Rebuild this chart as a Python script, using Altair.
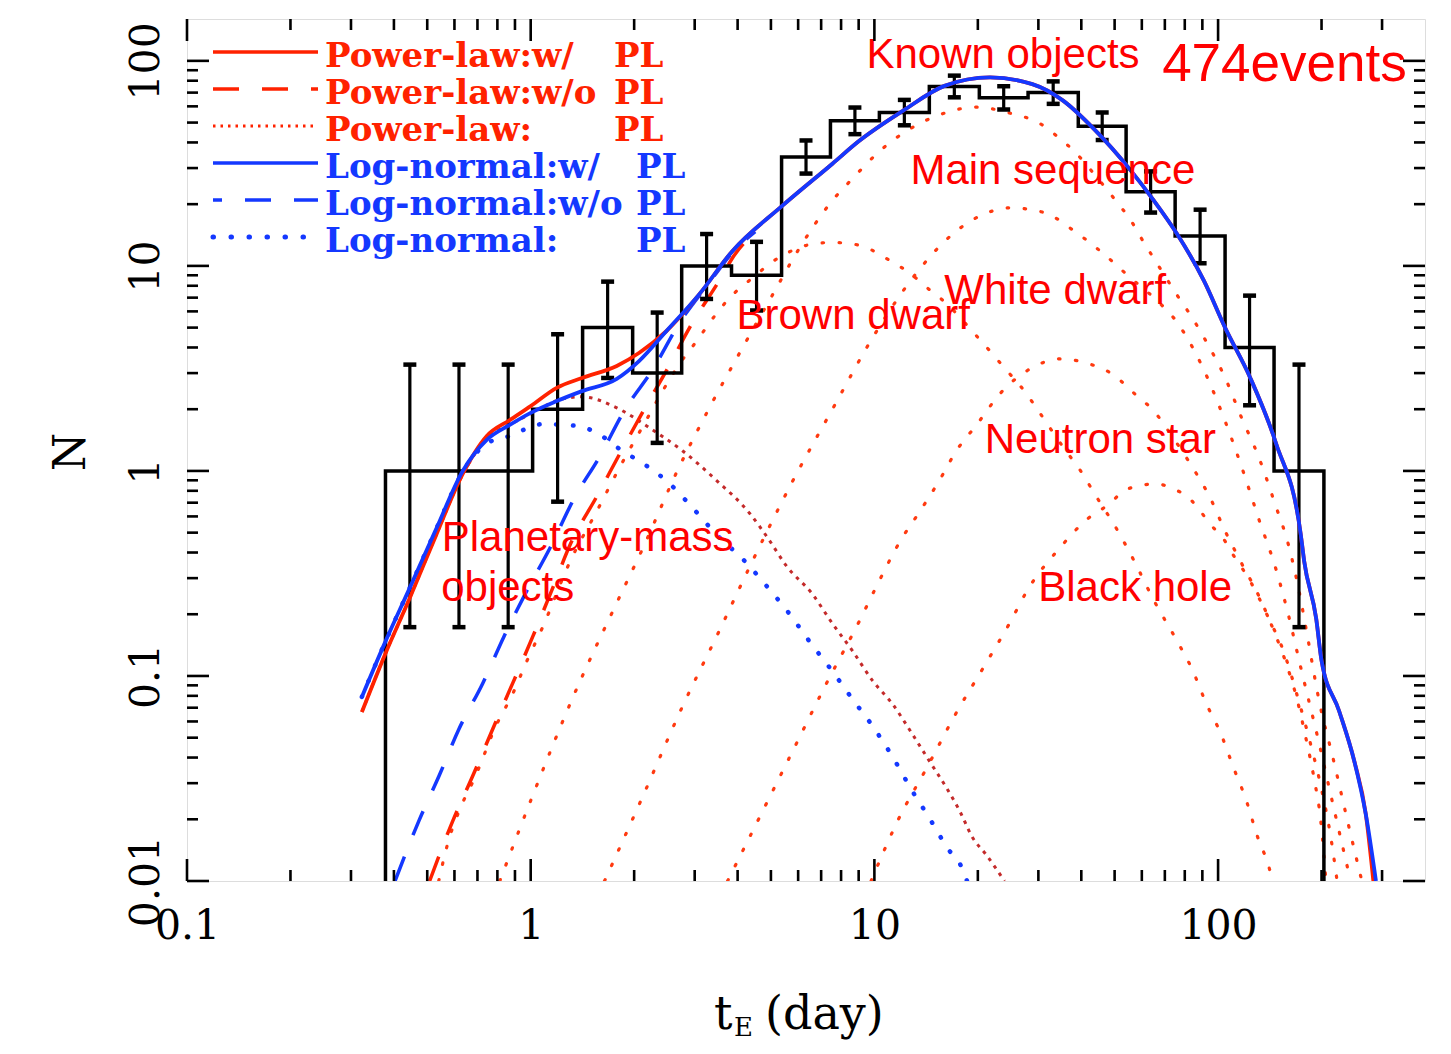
import altair as alt
import numpy as np
import pandas as pd

# ---------------- values ----------------
BIN_EDGES = [0.378, 0.524, 0.730, 1.013, 1.416, 1.98, 2.75, 3.84, 5.37, 7.45,
             10.34, 14.45, 20.2, 28.0, 39.2, 54.0, 75.0, 104.8, 145.5, 203.2]
COUNTS = [1, 1, 1, 2, 5, 3, 10, 9, 34, 51, 56, 75, 66, 70, 48, 23, 14, 4, 1]
ERR_LO = [0.173, 0.173, 0.173, 0.708, 2.84, 1.37, 6.90, 6.06, 28.2, 43.9,
          48.5, 66.4, 57.9, 61.7, 41.1, 18.2, 10.3, 2.09, 0.173]
ERR_HI = [3.30, 3.30, 3.30, 4.64, 8.38, 5.92, 14.3, 13.1, 40.9, 59.2,
          64.5, 84.7, 75.2, 79.4, 56.0, 28.9, 18.8, 7.16, 3.30]

PL_WITH_X = [0.3227, 0.3764, 0.4448, 0.5295, 0.6342, 0.7451, 0.869, 1.0, 1.19, 1.41, 1.78, 2.07, 2.48, 3.1, 3.86,
             5.37, 7.55, 9.0, 12.1, 16.0, 21.7, 28.8, 35.4, 43.3, 55.9, 65.2, 76.0, 91.0, 104.8, 124.0,
             147.5, 174.0, 178.0, 193.0, 200.0, 225.0, 249.0, 269.0, 283.0]
PL_WITH_N = [0.0667, 0.1266, 0.24, 0.482, 0.967, 1.48, 1.77, 2.07, 2.54, 2.84, 3.25, 3.77, 4.8, 7.3, 11.8,
             19.5, 31.5, 40.5, 57.0, 75.5, 83.0, 77.0, 64.0, 47.0, 29.0, 20.7, 14.3, 8.45, 5.0, 2.85,
             1.36, 0.49, 0.364, 0.19, 0.119, 0.0675, 0.0385, 0.0212, 0.01]
LN_WITH_X = [0.3227, 0.3764, 0.4448, 0.5295, 0.6342, 0.7451, 0.869, 1.0, 1.19, 1.41, 1.78, 2.07, 2.48, 3.1, 3.86,
             5.37, 7.55, 9.0, 12.1, 16.0, 21.7, 28.8, 35.4, 43.3, 55.9, 65.2, 76.0, 91.0, 104.8, 124.0,
             147.5, 174.0, 178.0, 193.0, 200.0, 225.0, 249.0, 269.0, 288.0]
LN_WITH_N = [0.079, 0.145, 0.269, 0.516, 1.0, 1.417, 1.676, 1.92, 2.19, 2.45, 2.81, 3.44, 4.8, 7.3, 11.8,
             19.5, 31.5, 40.5, 57.0, 75.5, 83.0, 77.0, 64.0, 47.0, 29.0, 20.7, 14.3, 8.45, 5.0, 2.85,
             1.36, 0.49, 0.364, 0.19, 0.119, 0.0675, 0.0385, 0.0212, 0.01]

PL_WO_X = [0.508, 0.593, 0.678, 0.775, 0.886, 1.013, 1.15, 1.31, 1.56, 1.82, 2.14, 2.5, 2.9, 3.6, 3.86, 4.5]
PL_WO_N = [0.01, 0.0196, 0.0325, 0.055, 0.092, 0.155, 0.26, 0.446, 0.755, 1.22, 2.0, 3.15, 5.0, 8.9, 10.9, 14.6]
LN_WO_X = [0.403, 0.4725, 0.541, 0.618, 0.725, 0.835, 0.974, 1.135, 1.34, 1.59, 1.87, 2.28, 2.71, 3.31, 3.86, 4.5]
LN_WO_N = [0.01, 0.0196, 0.0325, 0.055, 0.092, 0.155, 0.26, 0.417, 0.738, 1.18, 1.96, 3.18, 5.27, 8.3, 11.6, 14.7]

PLANET_PL_X = [0.3227, 0.3764, 0.4448, 0.5295, 0.6342, 0.7451, 0.869, 1.0, 1.19, 1.41, 1.78, 2.22, 2.77, 3.47, 4.34,
               4.9, 5.54, 6.61, 7.57, 8.65, 9.89, 11.3, 12.9, 14.45, 16.2, 17.7, 19.3, 21.1, 23.9]
PLANET_PL_N = [0.0667, 0.1266, 0.24, 0.482, 0.96, 1.44, 1.68, 1.9, 2.2, 2.3, 2.03, 1.62, 1.25, 0.9, 0.62,
               0.47, 0.345, 0.25, 0.179, 0.132, 0.0946, 0.0728, 0.052, 0.0385, 0.0285, 0.022, 0.0163, 0.0135, 0.01]
PLANET_LN_X = [0.3227, 0.3764, 0.4448, 0.5295, 0.6342, 0.7451, 0.869, 1.08, 1.36, 1.56, 1.85, 2.12, 2.54, 2.96,
               3.47, 4.19, 4.88, 5.66, 6.52, 7.53, 8.61, 9.84, 11.4, 12.8, 14.5, 16.3, 18.1, 18.6]
PLANET_LN_N = [0.079, 0.145, 0.269, 0.516, 0.99, 1.36, 1.48, 1.69, 1.66, 1.53, 1.25, 1.09, 0.865, 0.66,
               0.49, 0.364, 0.272, 0.201, 0.145, 0.106, 0.0776, 0.0575, 0.0393, 0.028, 0.0201, 0.0145, 0.0113, 0.01]

BD_X = [0.54, 0.574, 0.622, 0.687, 0.796, 0.887, 0.974, 1.08, 1.31, 1.56, 1.82, 2.14, 2.45, 2.75, 3.04,
        3.43, 3.79, 4.42, 4.95, 5.37, 5.93, 6.78, 7.55, 8.63, 9.67, 10.8, 11.8, 12.9, 14.4, 15.8, 20.2,
        23.9, 27.7, 29.6, 36.1, 39.2, 44.5, 50.5, 56.6, 65.2, 76.0, 84.0, 92.2, 102.0, 111.0, 121.0,
        130.0, 141.0, 144.0]
BD_N = [0.01, 0.0153, 0.0224, 0.0318, 0.058, 0.082, 0.118, 0.171, 0.37, 0.64, 1.05, 1.7, 2.54, 3.44, 4.3,
        5.7, 6.98, 8.74, 10.2, 11.2, 12.1, 12.9, 13.0, 12.8, 12.1, 10.9, 10.0, 9.0, 7.7, 6.8, 4.4,
        3.18, 2.38, 2.03, 1.25, 1.04, 0.738, 0.527, 0.372, 0.232, 0.148, 0.108, 0.074, 0.052, 0.0356, 0.0245,
        0.0166, 0.0115, 0.01]
MS_X = [0.813, 1.007, 1.324, 1.79, 2.12, 2.67, 3.31, 4.24, 5.0, 6.05, 7.4, 8.7, 10.4, 12.7, 15.7, 19.7,
        24.7, 30.4, 34.5, 38.1, 44.5, 50.5, 55.8, 60.5, 65.2, 68.7, 76.0, 84.0, 92.2, 104.8, 117.0,
        131.5, 146.5, 160.0, 172.0, 181.5, 197.0, 217.0, 240.0, 262.0]
MS_N = [0.01, 0.0254, 0.078, 0.232, 0.42, 1.0, 2.03, 4.3, 7.0, 12.2, 20.0, 27.0, 36.5, 46.6, 55.0, 59.5,
        55.7, 49.3, 42.0, 36.3, 26.9, 20.7, 16.6, 13.2, 10.8, 9.4, 7.2, 5.6, 4.3, 2.85, 1.82,
        1.16, 0.69, 0.44, 0.26, 0.16, 0.075, 0.0385, 0.0185, 0.01]
WD_X = [1.64, 2.1, 2.77, 3.5, 4.42, 5.78, 7.55, 9.87, 12.9, 16.9, 22.0, 24.7, 31.2, 38.1, 46.3, 55.8,
        65.0, 76.0, 91.0, 104.8, 117.0, 131.5, 147.5, 160.0, 174.0, 195.0, 218.0, 243.0]
WD_N = [0.01, 0.025, 0.0715, 0.16, 0.364, 0.89, 2.0, 4.45, 8.7, 14.3, 18.5, 19.2, 18.2, 14.8, 11.5, 8.7,
        7.0, 5.3, 3.1, 1.75, 1.05, 0.58, 0.33, 0.2, 0.11, 0.05, 0.022, 0.01]
NS_X = [3.74, 5.66, 7.24, 9.04, 10.1, 11.9, 13.6, 15.4, 17.3, 19.9, 23.2, 27.8, 35.0, 39.2, 43.9, 49.2,
        53.3, 58.9, 63.8, 74.0, 84.0, 94.8, 104.8, 117.5, 131.5, 145.5, 158.7, 169.7, 180.0, 190.0, 199.0, 206.0]
NS_N = [0.01, 0.04, 0.0914, 0.185, 0.27, 0.456, 0.64, 0.89, 1.25, 1.69, 2.38, 3.08, 3.52, 3.44, 3.25, 2.97,
        2.66, 2.27, 2.03, 1.45, 1.05, 0.74, 0.51, 0.35, 0.245, 0.165, 0.112, 0.077, 0.05, 0.032, 0.0196, 0.01]
BH_X = [9.78, 11.8, 14.2, 17.3, 20.9, 24.7, 27.8, 35.0, 41.0, 48.2, 53.3, 58.9, 66.0, 74.0, 82.3, 88.7,
        94.8, 103.4, 110.6, 124.0, 140.6, 155.6, 170.0, 185.0, 200.0, 212.0, 222.0]
BH_N = [0.01, 0.0203, 0.0356, 0.066, 0.112, 0.18, 0.26, 0.43, 0.57, 0.69, 0.8, 0.845, 0.865, 0.817, 0.738,
        0.638, 0.55, 0.47, 0.39, 0.29, 0.19, 0.13, 0.08, 0.048, 0.028, 0.017, 0.01]

ANN_TEXT = ["Known objects", "474events", "Main sequence", "White dwarf", "Brown dwarf",
            "Neutron star", "Planetary-mass", "objects", "Black hole"]
ANN_X = [9.48, 68.75, 12.73, 15.98, 3.97, 20.95, 0.551, 0.549, 29.98]
ANN_N = [92.4, 79.9, 25.1, 6.53, 4.93, 1.224, 0.407, 0.232, 0.232]

LEGEND_TEXT = ["Power-law:w/", "Power-law:w/o", "Power-law:", "Log-normal:w/", "Log-normal:w/o", "Log-normal:"]
LEGEND_SUFFIX = "PL"

X_LABELS = [0.1, 1, 10, 100]
Y_LABELS = [0.01, 0.1, 1, 10, 100]
X_MINOR = [0.2, 0.3, 0.4, 0.5, 0.6, 0.7, 0.8, 0.9, 2, 3, 4, 5, 6, 7, 8, 9,
           20, 30, 40, 50, 60, 70, 80, 90, 200, 300]
Y_MINOR = [0.02, 0.03, 0.04, 0.05, 0.06, 0.07, 0.08, 0.09, 0.2, 0.3, 0.4, 0.5, 0.6, 0.7, 0.8, 0.9,
           2, 3, 4, 5, 6, 7, 8, 9, 20, 30, 40, 50, 60, 70, 80, 90]

# ---------------- layout / styles ----------------
W, H = 1238, 862
RED = "#ff2200"
DOTRED = "#ff3a10"
DARKRED = "#c42a2a"
BLUE = "#1438ff"

xs = alt.Scale(type="log", domain=[0.1, 400])
ys = alt.Scale(type="log", domain=[0.01, 160])

X_AXIS = alt.Axis(values=X_LABELS, format="~g", title=None, grid=False, ticks=False, tickSize=0,
                  domain=False, labelFont="DejaVu Serif", labelFontSize=41, labelColor="black",
                  labelPadding=57, labelBaseline="alphabetic", labelAlign="center",
                  labelOverlap=False, labelFlush=False, labelBound=False)
Y_AXIS = alt.Axis(values=Y_LABELS, format="~g", title=None, grid=False, ticks=False, tickSize=0,
                  domain=False, labelFont="DejaVu Serif", labelFontSize=41, labelColor="black",
                  labelPadding=29, labelAngle=270, labelBaseline="alphabetic", labelAlign="center",
                  labelOverlap=False, labelFlush=False, labelBound=False)


def X(field):
    return alt.X(field, scale=xs, axis=X_AXIS)


def Y(field):
    return alt.Y(field, scale=ys, axis=Y_AXIS)


def curve(xv, nv, color, width, dash=None, cap="butt", interp="monotone"):
    df = pd.DataFrame({"x": xv, "N": nv, "i": list(range(len(xv)))})
    props = dict(color=color, strokeWidth=width, clip=True, interpolate=interp, strokeCap=cap)
    if dash is not None:
        props["strokeDash"] = dash
    return alt.Chart(df).mark_line(**props).encode(x=X("x:Q"), y=Y("N:Q"), order="i:Q")


layers = []

# components (dotted)
COMP_DOT = [1.5, 15.5]
for cx, cn in [(BD_X, BD_N), (MS_X, MS_N), (WD_X, WD_N), (NS_X, NS_N), (BH_X, BH_N)]:
    layers.append(curve(cx, cn, DOTRED, 3.2, COMP_DOT, cap="round"))
layers.append(curve(PLANET_PL_X, PLANET_PL_N, DARKRED, 3.0, [3.5, 5.5]))
layers.append(curve(PLANET_LN_X, PLANET_LN_N, BLUE, 4.5, [0.5, 16.5], cap="round"))

# without planetary-mass objects (dashed)
layers.append(curve(PL_WO_X, PL_WO_N, RED, 3.5, [26, 23]))
layers.append(curve(LN_WO_X, LN_WO_N, BLUE, 3.5, [26, 23]))

# histogram of events
hx = [BIN_EDGES[0]] + BIN_EDGES[:-1] + [BIN_EDGES[-1]]
hy = [0.001] + COUNTS + [0.001]
layers.append(curve(hx, hy, "black", 3.5, interp="step-after"))

centers = np.sqrt(np.array(BIN_EDGES[:-1]) * np.array(BIN_EDGES[1:]))
err = pd.DataFrame({"x": centers, "lo": ERR_LO, "hi": ERR_HI})
layers.append(alt.Chart(err).mark_rule(color="black", strokeWidth=3.2).encode(
    x=X("x:Q"), y=Y("lo:Q"), y2="hi:Q"))
caps = pd.DataFrame({"x": list(centers) * 2, "v": ERR_LO + ERR_HI})
layers.append(alt.Chart(caps).mark_tick(color="black", orient="horizontal", size=13, thickness=4.5,
                                        opacity=1).encode(x=X("x:Q"), y=Y("v:Q")))

# totals (solid)
layers.append(curve(PL_WITH_X, PL_WITH_N, RED, 3.8))
layers.append(curve(LN_WITH_X, LN_WITH_N, BLUE, 3.8))

# annotations
ann = pd.DataFrame({"x": ANN_X, "N": ANN_N, "t": ANN_TEXT,
                    "s": [53 if t == "474events" else 42 for t in ANN_TEXT]})
layers.append(alt.Chart(ann).mark_text(align="left", baseline="alphabetic", font="Liberation Sans",
                                       color="#ff0000").encode(
    x=X("x:Q"), y=Y("N:Q"), text="t:N", size=alt.Size("s:Q", scale=None)))

# inward ticks on all four sides
for vals, ln in [(X_LABELS, 22), (X_MINOR, 11)]:
    d = pd.DataFrame({"v": vals})
    layers.append(alt.Chart(d).mark_rule(color="black", strokeWidth=2.6).encode(
        x=X("v:Q"), y=alt.value(H), y2=alt.value(H - ln)))
    layers.append(alt.Chart(d).mark_rule(color="black", strokeWidth=2.6).encode(
        x=X("v:Q"), y=alt.value(0), y2=alt.value(ln)))
for vals, ln in [(Y_LABELS, 22), (Y_MINOR, 11)]:
    d = pd.DataFrame({"v": vals})
    layers.append(alt.Chart(d).mark_rule(color="black", strokeWidth=2.6).encode(
        y=Y("v:Q"), x=alt.value(0), x2=alt.value(ln)))
    layers.append(alt.Chart(d).mark_rule(color="black", strokeWidth=2.6).encode(
        y=Y("v:Q"), x=alt.value(W), x2=alt.value(W - ln)))

# legend (upper left, inside the frame)
ROW_Y = [33, 70, 107, 144, 181, 218]
LEG_STYLE = [
    dict(color=RED, strokeWidth=3.5),
    dict(color=RED, strokeWidth=3.5, strokeDash=[26, 23]),
    dict(color=RED, strokeWidth=3.0, strokeDash=[2.5, 5]),
    dict(color=BLUE, strokeWidth=3.5),
    dict(color=BLUE, strokeWidth=3.5, strokeDash=[26, 23], strokeDashOffset=17),
    dict(color=BLUE, strokeWidth=5, strokeDash=[0.5, 17.5], strokeCap="round"),
]
for k, (lab, y0, st) in enumerate(zip(LEGEND_TEXT, ROW_Y, LEG_STYLE)):
    col = RED if k < 3 else BLUE
    one = pd.DataFrame({"t": [lab], "p": [LEGEND_SUFFIX]})
    layers.append(alt.Chart(one).mark_rule(**st).encode(
        x=alt.value(26), x2=alt.value(131), y=alt.value(y0)))
    layers.append(alt.Chart(one).mark_text(align="left", baseline="alphabetic", font="DejaVu Serif",
                                           fontWeight="bold", fontSize=34, color=col).encode(
        text="t:N", x=alt.value(138), y=alt.value(y0 + 15)))
    layers.append(alt.Chart(one).mark_text(align="left", baseline="alphabetic", font="DejaVu Serif",
                                           fontWeight="bold", fontSize=34, color=col).encode(
        text="p:N", x=alt.value(427 if k < 3 else 449), y=alt.value(y0 + 15)))

# axis titles
tN = pd.DataFrame({"t": ["N"]})
layers.append(alt.Chart(tN).mark_text(font="DejaVu Serif", fontSize=44, angle=270, align="center",
                                      baseline="middle", color="black").encode(
    text="t:N", x=alt.value(-115), y=alt.value(433)))
tx = pd.DataFrame({"a": ["t"], "b": ["E"], "c": ["(day)"]})
layers.append(alt.Chart(tx).mark_text(font="DejaVu Serif", fontSize=46, align="left",
                                      baseline="alphabetic", color="black").encode(
    text="a:N", x=alt.value(527), y=alt.value(1010)))
layers.append(alt.Chart(tx).mark_text(font="DejaVu Serif", fontSize=26, align="left",
                                      baseline="alphabetic", color="black").encode(
    text="b:N", x=alt.value(547), y=alt.value(1017)))
layers.append(alt.Chart(tx).mark_text(font="DejaVu Serif", fontSize=46, align="left",
                                      baseline="alphabetic", color="black").encode(
    text="c:N", x=alt.value(578), y=alt.value(1010)))

chart = alt.layer(*layers).properties(
    width=W, height=H,
    padding={"left": 179, "top": 11, "right": 14, "bottom": 163},
    autosize=alt.AutoSizeParams(type="none"),
).configure_view(stroke="black", strokeWidth=3.5).configure(background="white")

chart.save("out.html", embed_options={"renderer": "svg", "actions": False})
